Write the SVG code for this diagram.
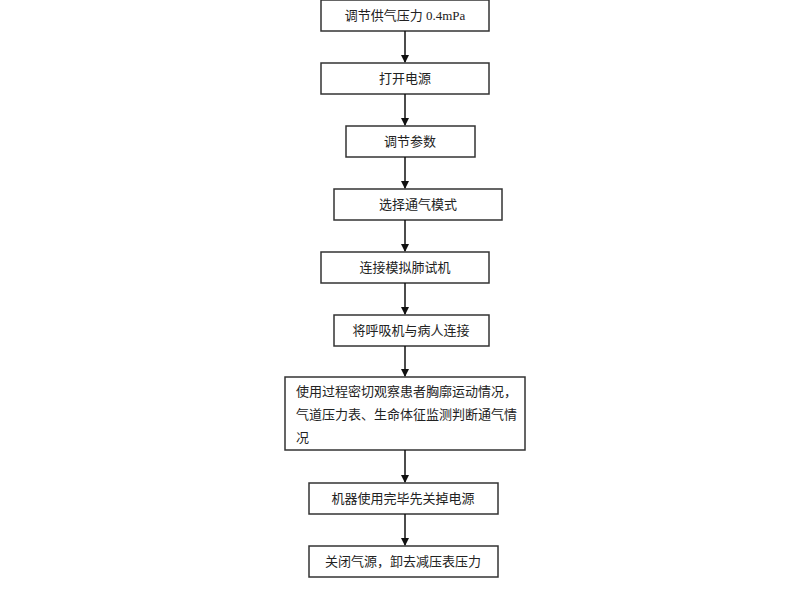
<svg xmlns="http://www.w3.org/2000/svg" width="800" height="600" viewBox="0 0 800 600">
<style>
rect{fill:#fff;stroke:#333;stroke-width:1.5}
text{font-family:"Liberation Serif","Noto Sans CJK SC",serif;font-size:13px;fill:#222;text-anchor:middle}
.l{text-anchor:start}
line{stroke:#111;stroke-width:1.5;marker-end:url(#a)}
</style>
<defs><marker id="a" markerWidth="8" markerHeight="8" refX="7" refY="4" orient="auto" markerUnits="userSpaceOnUse"><path d="M0,0L8,4L0,8z" fill="#111"/></marker></defs>
<rect width="800" height="600" style="fill:#fff;stroke:none"/>
<g id="n1"><rect x="321" y="0" width="168" height="31"/><text x="405" y="20">调节供气压力 0.4mPa</text></g>
<g id="n2"><rect x="321" y="63" width="168" height="31"/><text x="405" y="83">打开电源</text></g>
<g id="n3"><rect x="346" y="126" width="129" height="31"/><text x="410" y="146">调节参数</text></g>
<g id="n4"><rect x="334" y="189" width="168" height="31"/><text x="418" y="209">选择通气模式</text></g>
<g id="n5"><rect x="321" y="252" width="168" height="31"/><text x="405" y="272">连接模拟肺试机</text></g>
<g id="n6"><rect x="334" y="315" width="155" height="31"/><text x="411" y="335">将呼吸机与病人连接</text></g>
<g id="n7"><rect x="285" y="377" width="240" height="73"/><text class="l" x="296" y="396">使用过程密切观察患者胸廓运动情况，</text><text class="l" x="296" y="419">气道压力表、生命体征监测判断通气情</text><text class="l" x="296" y="442">况</text></g>
<g id="n8"><rect x="309" y="483" width="189" height="31"/><text x="403" y="503">机器使用完毕先关掉电源</text></g>
<g id="n9"><rect x="309" y="546" width="189" height="31"/><text x="403" y="566">关闭气源，卸去减压表压力</text></g>
<g id="edges">
<line x1="405" y1="31" x2="405" y2="62"/>
<line x1="405" y1="94" x2="405" y2="125"/>
<line x1="405" y1="157" x2="405" y2="188"/>
<line x1="405" y1="220" x2="405" y2="251"/>
<line x1="405" y1="283" x2="405" y2="314"/>
<line x1="405" y1="346" x2="405" y2="376"/>
<line x1="405" y1="450" x2="405" y2="482"/>
<line x1="405" y1="514" x2="405" y2="545"/>
</g>
</svg>
